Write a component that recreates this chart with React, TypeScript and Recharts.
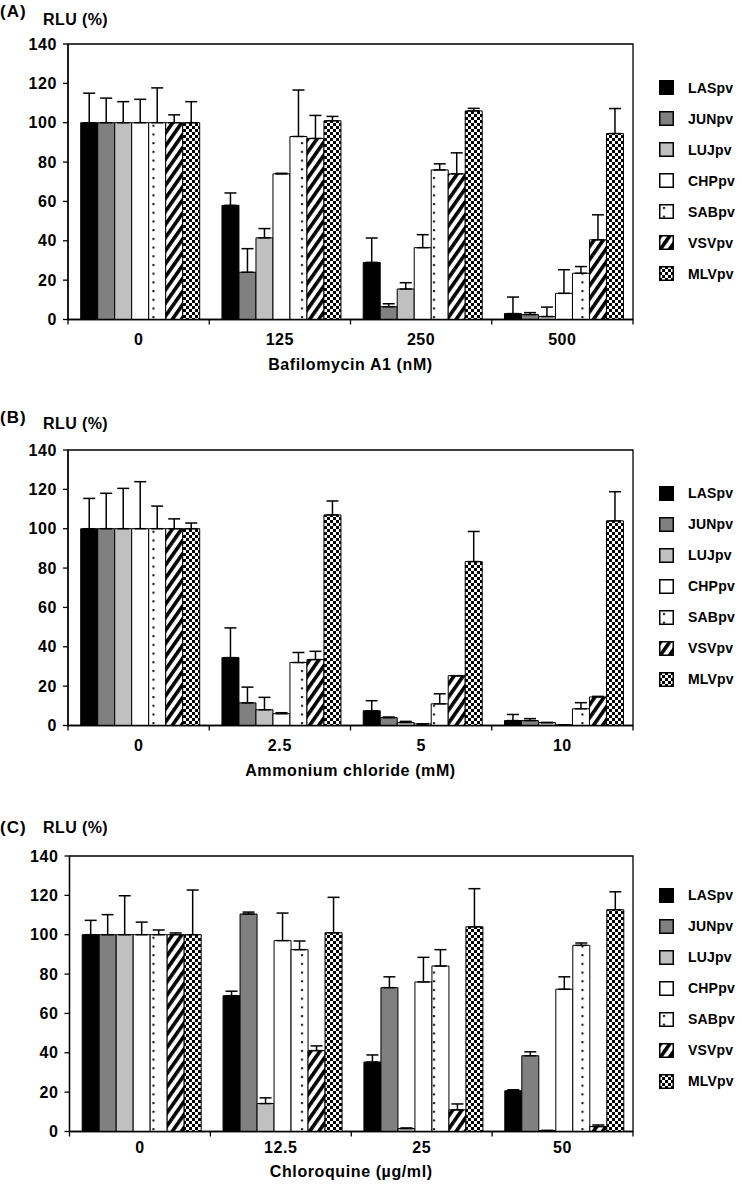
import React from 'react';
import { BarChart, Bar, XAxis, YAxis, ErrorBar, ReferenceArea } from 'recharts';

const SERIES = ['LASpv', 'JUNpv', 'LUJpv', 'CHPpv', 'SABpv', 'VSVpv', 'MLVpv'];
const FILLS = ['#000000', '#808080', '#c0c0c0', '#ffffff', 'url(#pat-dots)', 'url(#pat-stripes)', 'url(#pat-checks)'];
const Y_TICKS = [0, 20, 40, 60, 80, 100, 120, 140];

// (A) Bafilomycin A1 (nM) -- one row per dose, series in SERIES order
const bafDoses = ['0', '125', '250', '500'];
const bafMean = [
    [100, 100, 100, 100, 100, 100, 100],
    [58, 24, 41.5, 74, 93, 92, 101],
    [29, 6.5, 15.5, 36.5, 76, 74, 106],
    [3, 2.5, 1.5, 13.3, 23.5, 40.5, 94.5],
];
const bafErr = [
    [15, 12.5, 10.7, 11.9, 17.7, 4, 10.7],
    [6.3, 12, 4.7, 0.3, 23.6, 11.7, 2.2],
    [12.4, 1.5, 3.2, 6.6, 3.1, 10.7, 1.3],
    [8.4, 1, 4.8, 12, 3.4, 12.7, 12.7],
];

// (B) Ammonium chloride (mM)
const nh4Doses = ['0', '2.5', '5', '10'];
const nh4Mean = [
    [100, 100, 100, 100, 100, 100, 100],
    [34.5, 11.5, 8, 6, 32, 33.5, 107],
    [7.5, 4, 1.5, 0.8, 11, 25.3, 83.3],
    [2.5, 2.5, 1.5, 0.3, 8.5, 14.5, 104],
];
const nh4Err = [
    [15.4, 18, 20.5, 23.9, 11.5, 5, 2.9],
    [15.1, 8, 6.3, 0.5, 5.1, 4.2, 7.1],
    [5.1, 0.3, 0.6, 0, 5.1, 0, 15.3],
    [3.1, 1, 0, 0, 3.1, 0.3, 14.8],
];

// (C) Chloroquine (µg/ml)
const chqDoses = ['0', '12.5', '25', '50'];
const chqMean = [
    [100, 100, 100, 100, 100, 100, 100],
    [69, 110.5, 14.2, 97, 92.4, 41.1, 101],
    [35.3, 73.1, 1.5, 76, 84.1, 11, 104],
    [20.7, 38.5, 0.5, 72.3, 94.6, 2.5, 112.7],
];
const chqErr = [
    [7.3, 10.2, 19.8, 6.4, 2.4, 0.9, 22.7],
    [2.3, 1, 2.9, 14, 4.4, 2.4, 18],
    [3.6, 5.5, 0.3, 12.5, 8.3, 3, 19.4],
    [0.5, 2, 0, 6.3, 1.2, 0.8, 9.1],
];

const FONT = '"Liberation Sans", Arial, Helvetica, sans-serif';
const TICK_SIZE = 5;

const buildRows = (doses: string[], mean: number[][], err: number[][]) =>
    doses.map((dose, d) => {
        const row: any = { dose };
        SERIES.forEach((s, i) => {
            row[s] = mean[d][i];
            row[s + '_err'] = [0, err[d][i]];
        });
        return row;
    });

const Patterns = () => (
    <svg width={0} height={0} style={{ position: 'absolute' }}>
        <defs>
            <pattern id="pat-dots" patternUnits="userSpaceOnUse" width={16.5} height={8.7}>
                <rect width={16.5} height={8.7} fill="#fff" />
                <rect x={4} y={3} width={2} height={2} fill="#000" />
            </pattern>
            <pattern id="pat-stripes" patternUnits="userSpaceOnUse" width={7.5} height={7.5} patternTransform="rotate(35)">
                <rect width={7.5} height={7.5} fill="#fff" />
                <rect width={3.6} height={7.5} fill="#000" />
            </pattern>
            <pattern id="pat-checks" patternUnits="userSpaceOnUse" width={6} height={6}>
                <rect width={6} height={6} fill="#fff" />
                <rect width={3} height={3} fill="#000" />
                <rect x={3} y={3} width={3} height={3} fill="#000" />
            </pattern>
        </defs>
    </svg>
);

// category label at the band centre, tick marks on the band edges
const CatTick = (props: any) => {
    const { x, y, payload, index, visibleTicksCount, gap } = props;
    const half = payload && payload.offset ? payload.offset : 565 / 8;
    const y0 = y - TICK_SIZE - gap;
    return (
        <g>
            <line x1={x - half} x2={x - half} y1={y0} y2={y0 + TICK_SIZE} stroke="#000" strokeWidth={1.3} />
            {index === visibleTicksCount - 1 && (
                <line x1={x + half} x2={x + half} y1={y0} y2={y0 + TICK_SIZE} stroke="#000" strokeWidth={1.3} />
            )}
            <text x={x} y={y} dy="0.71em" textAnchor="middle" fontSize={16} fontWeight={700} fill="#000" letterSpacing={0.6}>
                {payload.value}
            </text>
        </g>
    );
};

const SeriesKey = ({ top }: { top: number }) => (
    <div style={{ position: 'absolute', left: 659, top, fontFamily: FONT }}>
        {SERIES.map((s, i) => (
            <div key={s} style={{ display: 'flex', alignItems: 'center', height: 31 }}>
                <svg width={15} height={15} style={{ display: 'block' }}>
                    <rect x={0.75} y={0.75} width={13.5} height={13.5} fill={FILLS[i]} stroke="#000" strokeWidth={1.5} />
                </svg>
                <span style={{ marginLeft: 14, fontSize: 14, fontWeight: 700, letterSpacing: 0.2 }}>{s}</span>
            </div>
        ))}
    </div>
);

interface PanelProps {
    tag: string;
    doses: string[];
    mean: number[][];
    err: number[][];
    xLabel: string;
    top: number;
    plotLeft: number;
    tagTop: number;
    rluTop: number;
    keyTop: number;
    tickGap: number;
    labelOffset: number;
}

const Panel: React.FC<PanelProps> = ({ tag, doses, mean, err, xLabel, top, plotLeft, tagTop, rluTop, keyTop, tickGap, labelOffset }) => {
    const rows = buildRows(doses, mean, err);
    return (
        <div style={{ position: 'absolute', left: 0, top, width: 742, height: 405, fontFamily: FONT }}>
            <div style={{ position: 'absolute', left: 0, top: tagTop, fontSize: 17, fontWeight: 700, lineHeight: 1, letterSpacing: 1 }}>
                ({tag})
            </div>
            <div style={{ position: 'absolute', left: 43, top: rluTop, fontSize: 16, fontWeight: 700, lineHeight: 1, letterSpacing: 0.4 }}>
                RLU (%)
            </div>
            <BarChart
                width={742}
                height={380}
                data={rows}
                margin={{ top: 44, right: 109, bottom: 10.5, left: plotLeft - 60 }}
                barCategoryGap="9%"
                barGap={0}
            >
                <XAxis
                    dataKey="dose"
                    height={50}
                    interval={0}
                    tickLine={false}
                    tickSize={TICK_SIZE}
                    tickMargin={tickGap}
                    tick={<CatTick gap={tickGap} />}
                    axisLine={{ stroke: '#000', strokeWidth: 1.3 }}
                    label={{
                        value: xLabel,
                        position: 'insideBottom',
                        offset: labelOffset,
                        fontSize: 16,
                        fontWeight: 700,
                        fill: '#000',
                        letterSpacing: 0.6,
                    }}
                />
                <YAxis
                    domain={[0, 140]}
                    ticks={Y_TICKS}
                    interval={0}
                    width={60}
                    tickSize={TICK_SIZE}
                    tickMargin={6}
                    tickLine={{ stroke: '#000', strokeWidth: 1.3 }}
                    axisLine={{ stroke: '#000', strokeWidth: 1.3 }}
                    tick={{ fontSize: 16, fontWeight: 700, fill: '#000', letterSpacing: 0.6 }}
                />
                <ReferenceArea
                    x1={doses[0]}
                    x2={doses[doses.length - 1]}
                    y1={0}
                    y2={140}
                    fill="none"
                    fillOpacity={0}
                    stroke="#000"
                    strokeWidth={1.3}
                    strokeOpacity={1}
                />
                {SERIES.map((s, i) => (
                    <Bar key={s} dataKey={s} fill={FILLS[i]} stroke="#000" strokeWidth={1} isAnimationActive={false}>
                        <ErrorBar dataKey={s + '_err'} width={6} stroke="#000" strokeWidth={1.5} direction="y" />
                    </Bar>
                ))}
            </BarChart>
            <SeriesKey top={keyTop} />
        </div>
    );
};

export default function App() {
    return (
        <div style={{ position: 'absolute', left: 0, top: 0, width: 742, height: 1186, background: '#fff' }}>
            <Patterns />
            <Panel tag="A" doses={bafDoses} mean={bafMean} err={bafErr} xLabel="Bafilomycin A1 (nM)"
                top={0} plotLeft={68} tagTop={3} rluTop={12} keyTop={72} tickGap={9} labelOffset={0} />
            <Panel tag="B" doses={nh4Doses} mean={nh4Mean} err={nh4Err} xLabel="Ammonium chloride (mM)"
                top={405.5} plotLeft={68} tagTop={3} rluTop={10} keyTop={72} tickGap={9} labelOffset={0} />
            <Panel tag="C" doses={chqDoses} mean={chqMean} err={chqErr} xLabel="Chloroquine (µg/ml)"
                top={811.5} plotLeft={69.5} tagTop={7} rluTop={8} keyTop={68} tickGap={5} labelOffset={5} />
        </div>
    );
}
